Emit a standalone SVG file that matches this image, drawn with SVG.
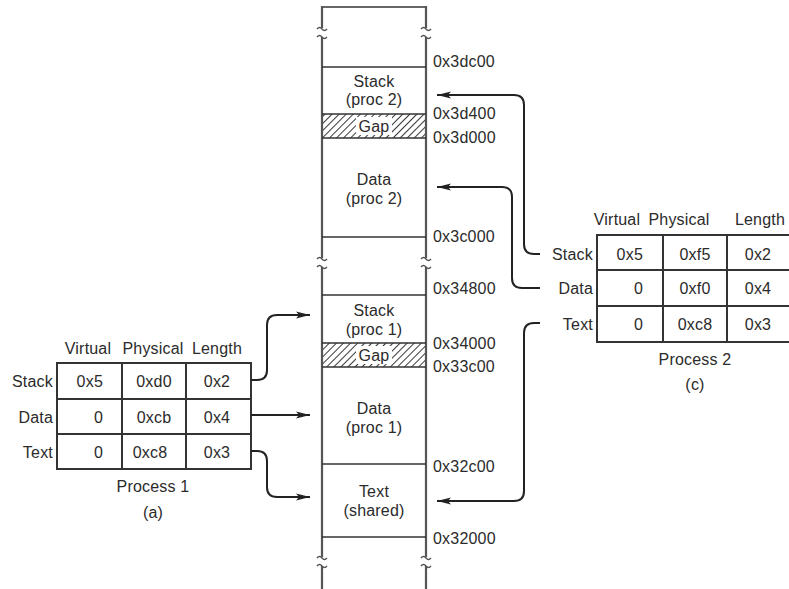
<svg xmlns="http://www.w3.org/2000/svg" width="789" height="589" viewBox="0 0 789 589">
<style>
text{font-family:"Liberation Sans",Arial,sans-serif;font-size:16px;fill:#2b2b2b;dominant-baseline:central;letter-spacing:0.2px}
.c{text-anchor:middle}
.r{text-anchor:end}
.ln{stroke:#333;stroke-width:1.5;fill:none}
.edge{stroke:#555;stroke-width:2.2;fill:none}
.tbl{stroke:#333;stroke-width:2;fill:none}
.conn{stroke:#222;stroke-width:2;fill:none;marker-end:url(#ah)}
.tl{stroke:#555;stroke-width:1.4;fill:none}
</style>
<defs>
<marker id="ah" viewBox="0 0 14 8" refX="14" refY="4" markerWidth="14" markerHeight="8" markerUnits="userSpaceOnUse" orient="auto">
<path d="M0,0.5 L14,4 L0,7.5 L3,4 Z" fill="#222"/>
</marker>
<pattern id="hatch" patternUnits="userSpaceOnUse" width="5" height="5" patternTransform="rotate(45)">
<line x1="0" y1="0" x2="0" y2="5" stroke="#222" stroke-width="1.8"/>
</pattern>
</defs>
<rect width="789" height="589" fill="#fff"/>

<g id="memory">
<line class="ln" x1="322" y1="7" x2="426" y2="7"/>
<path class="edge" d="M322,6 V28 M322,37 V258 M322,267 V557 M322,566 V589"/>
<path class="edge" d="M426,6 V28 M426,37 V258 M426,267 V557 M426,566 V589"/>
<g class="tl">
<path d="M317,29 q2.5,-3 5,0 t5,0"/><path d="M317,37 q2.5,-3 5,0 t5,0"/>
<path d="M421,29 q2.5,-3 5,0 t5,0"/><path d="M421,37 q2.5,-3 5,0 t5,0"/>
<path d="M317,259 q2.5,-3 5,0 t5,0"/><path d="M317,267 q2.5,-3 5,0 t5,0"/>
<path d="M421,259 q2.5,-3 5,0 t5,0"/><path d="M421,267 q2.5,-3 5,0 t5,0"/>
<path d="M317,558 q2.5,-3 5,0 t5,0"/><path d="M317,566 q2.5,-3 5,0 t5,0"/>
<path d="M421,558 q2.5,-3 5,0 t5,0"/><path d="M421,566 q2.5,-3 5,0 t5,0"/>
</g>
<g class="ln">
<line x1="322" y1="67" x2="426" y2="67"/>
<line x1="322" y1="237" x2="426" y2="237"/>
<line x1="322" y1="295" x2="426" y2="295"/>
<line x1="322" y1="464" x2="426" y2="464"/>
<line x1="322" y1="537" x2="426" y2="537"/>
</g>
</g>

<g id="stack2">
<text class="c" x="374" y="81">Stack</text>
<text class="c" x="374" y="99">(proc 2)</text>
</g>
<g id="gap2">
<rect x="323" y="114" width="102" height="24" fill="url(#hatch)"/>
<rect x="356" y="117" width="36" height="18" fill="#fff"/>
<line class="ln" x1="322" y1="114" x2="426" y2="114"/>
<line class="ln" x1="322" y1="138" x2="426" y2="138"/>
<text class="c" x="374" y="126">Gap</text>
</g>
<g id="data2">
<text class="c" x="374" y="179">Data</text>
<text class="c" x="374" y="198">(proc 2)</text>
</g>
<g id="stack1">
<text class="c" x="374" y="310">Stack</text>
<text class="c" x="374" y="329">(proc 1)</text>
</g>
<g id="gap1">
<rect x="323" y="343" width="102" height="24" fill="url(#hatch)"/>
<rect x="356" y="346" width="36" height="18" fill="#fff"/>
<line class="ln" x1="322" y1="343" x2="426" y2="343"/>
<line class="ln" x1="322" y1="367" x2="426" y2="367"/>
<text class="c" x="374" y="355">Gap</text>
</g>
<g id="data1">
<text class="c" x="374" y="408">Data</text>
<text class="c" x="374" y="427">(proc 1)</text>
</g>
<g id="textshared">
<text class="c" x="374" y="491">Text</text>
<text class="c" x="374" y="510">(shared)</text>
</g>

<g id="addresses">
<text x="433" y="61">0x3dc00</text>
<text x="433" y="113">0x3d400</text>
<text x="433" y="137">0x3d000</text>
<text x="433" y="236">0x3c000</text>
<text x="433" y="288">0x34800</text>
<text x="433" y="343">0x34000</text>
<text x="433" y="366">0x33c00</text>
<text x="433" y="466">0x32c00</text>
<text x="433" y="538">0x32000</text>
</g>

<g id="process1">
<rect class="tbl" x="57" y="363" width="194" height="106"/>
<path class="tbl" d="M122,363 V469 M186,363 V469 M57,399 H251 M57,434 H251"/>
<text class="c" x="88" y="348">Virtual</text>
<text class="c" x="153" y="348">Physical</text>
<text class="c" x="217" y="348">Length</text>
<text class="r" x="53" y="381">Stack</text>
<text class="r" x="53" y="417">Data</text>
<text class="r" x="53" y="452">Text</text>
<text class="r" x="103" y="381">0x5</text>
<text class="r" x="103" y="417">0</text>
<text class="r" x="103" y="452">0</text>
<text class="c" x="154" y="381">0xd0</text>
<text class="c" x="154" y="417">0xcb</text>
<text class="c" x="150" y="452">0xc8</text>
<text class="c" x="217" y="381">0x2</text>
<text class="c" x="217" y="417">0x4</text>
<text class="c" x="217" y="452">0x3</text>
<text class="c" x="153" y="486">Process 1</text>
<text class="c" x="153" y="512">(a)</text>
</g>

<g id="process2">
<rect class="tbl" x="597" y="235" width="196" height="107"/>
<path class="tbl" d="M663,235 V342 M727,235 V342 M597,270 H793 M597,306 H793"/>
<text class="c" x="617" y="219">Virtual</text>
<text class="c" x="679" y="219">Physical</text>
<text class="c" x="760" y="219">Length</text>
<text class="r" x="593" y="254">Stack</text>
<text class="r" x="593" y="288">Data</text>
<text class="r" x="593" y="324">Text</text>
<text class="r" x="643" y="254">0x5</text>
<text class="r" x="643" y="288">0</text>
<text class="r" x="643" y="324">0</text>
<text class="c" x="695" y="254">0xf5</text>
<text class="c" x="695" y="288">0xf0</text>
<text class="c" x="695" y="324">0xc8</text>
<text class="c" x="758" y="254">0x2</text>
<text class="c" x="758" y="288">0x4</text>
<text class="c" x="758" y="324">0x3</text>
<text class="c" x="695" y="359">Process 2</text>
<text class="c" x="695" y="384">(c)</text>
</g>

<g id="connectors">
<path class="conn" d="M251,380 H257 Q267,380 267,370 V325 Q267,315 277,315 H310"/>
<path class="conn" d="M251,415 H310"/>
<path class="conn" d="M251,451 H257 Q267,451 267,461 V487 Q267,497 277,497 H310"/>
<path class="conn" d="M540,254 H534 Q524,254 524,244 V105 Q524,95 514,95 H437"/>
<path class="conn" d="M540,288 H522 Q512,288 512,278 V197 Q512,187 502,187 H437"/>
<path class="conn" d="M540,323 H534 Q524,323 524,333 V491 Q524,501 514,501 H437"/>
</g>
</svg>
